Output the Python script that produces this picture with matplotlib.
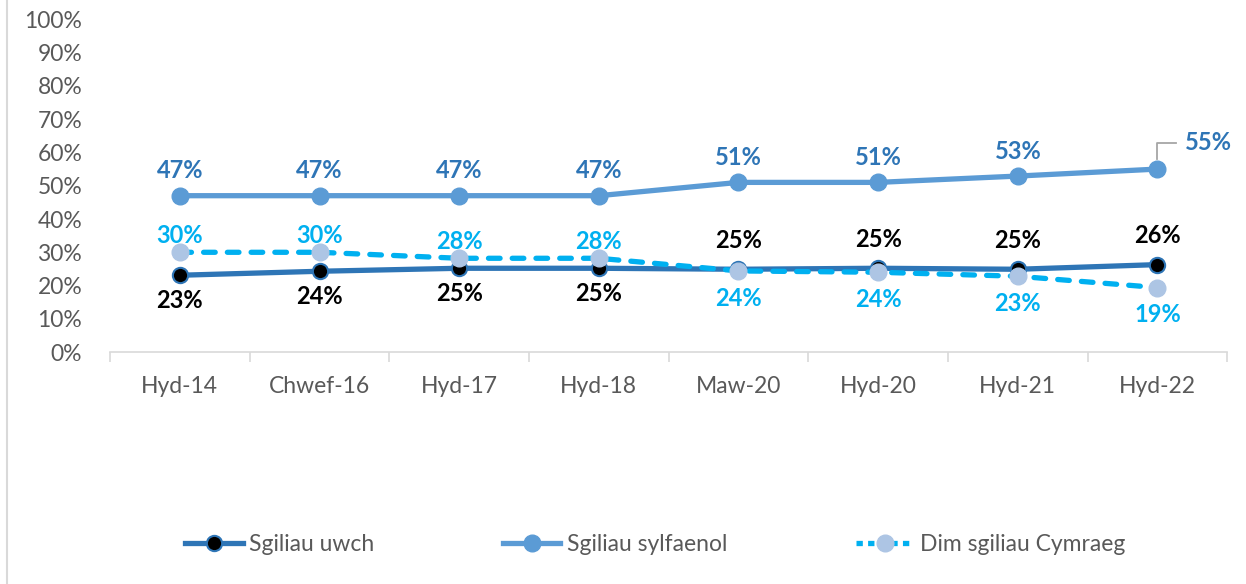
import matplotlib.pyplot as plt
from matplotlib.lines import Line2D
from matplotlib.transforms import ScaledTranslation

plt.rcParams['font.family'] = ['Lato', 'DejaVu Sans']

# data
categories = ['Hyd-14', 'Chwef-16', 'Hyd-17', 'Hyd-18', 'Maw-20', 'Hyd-20', 'Hyd-21', 'Hyd-22']
uwch = [23.1, 24.3, 25.2, 25.2, 24.9, 25.2, 24.9, 26.3]
sylfaenol = [47.0, 47.0, 47.0, 47.0, 51.0, 51.0, 52.9, 55.0]
dim = [30.0, 30.0, 28.2, 28.2, 24.4, 24.0, 22.8, 19.4]
series_names = ['Sgiliau uwch', 'Sgiliau sylfaenol', 'Dim sgiliau Cymraeg']
yticks = list(range(0, 101, 10))

grey = '#595959'
fig = plt.figure(figsize=(12.46, 5.84), dpi=100)
ax = fig.add_axes([0.0883, 0.397, 0.8967, 0.570])
x = list(range(len(categories)))

# llinellau - dim ar y top
ax.plot(x, uwch, color='#2E75B6', lw=3.8, marker='o', ms=11, mfc='black',
        mec='#2E75B6', mew=1.5, zorder=3, solid_capstyle='round')
ax.plot(x, sylfaenol, color='#5B9BD5', lw=3.8, marker='o', ms=12, mfc='#5B9BD5',
        mec='#5B9BD5', zorder=3, solid_capstyle='round')
ax.plot(x, dim, color='#00B0F0', lw=3.8, ls=(0, (2.2, 2.3)), marker='o', ms=12,
        mfc='#ADC5E4', mec='#ADC5E4', zorder=4, dash_capstyle='round')

# labeli data
lbl = dict(ha='center', va='center', fontsize=17, fontweight='bold',
           textcoords='offset points')
last = len(categories) - 1
for i in range(len(categories)):
    if i < last:
        ax.annotate('%d%%' % round(sylfaenol[i]), (i, sylfaenol[i]), xytext=(0, 18),
                    color='#2E75B6', **lbl)
    up = i >= 4
    ax.annotate('%d%%' % round(uwch[i]), (i, uwch[i]), xytext=(0, 21 if up else -18),
                color='black', **lbl)
    ax.annotate('%d%%' % round(dim[i]), (i, dim[i]), xytext=(0, -19.5 if up else 12),
                color='#00B0F0', **lbl)

# label olaf gyda llinell arweiniol
ax.annotate('%d%%' % round(sylfaenol[last]), (last, sylfaenol[last]), xytext=(37, 19),
            color='#2E75B6', **lbl)
pt = 1 / 72
leader = Line2D([0, 0, 13 * pt], [7 * pt, 19 * pt, 19 * pt], color='#A6A6A6', lw=1.3, zorder=5)
leader.set_transform(fig.dpi_scale_trans + ScaledTranslation(last, sylfaenol[last], ax.transData))
ax.add_line(leader)

ax.set_xlim(-0.5, len(categories) - 0.5)
ax.set_ylim(0, 100)
ax.set_yticks(yticks)
ax.set_yticklabels(['%d%%' % v for v in yticks])
ax.set_xticks(x)
ax.set_xticklabels(categories)
ax.set_xticks([v - 0.5 for v in range(len(categories) + 1)], minor=True)
ax.tick_params(axis='y', length=0, labelsize=16.5, labelcolor=grey, pad=20)
ax.tick_params(axis='x', which='major', length=0, labelsize=16.5, labelcolor=grey, pad=17.5)
ax.tick_params(axis='x', which='minor', length=7, color='#D9D9D9', width=1.2)
for s in ['top', 'right', 'left']:
    ax.spines[s].set_visible(False)
ax.spines['bottom'].set_color('#D9D9D9')
ax.spines['bottom'].set_linewidth(1.2)

# allwedd
handles = [
    Line2D([], [], color='#2E75B6', lw=3.8, marker='o', ms=11, mfc='black', mec='#2E75B6', mew=1.5),
    Line2D([], [], color='#5B9BD5', lw=3.8, marker='o', ms=12, mfc='#5B9BD5', mec='#5B9BD5'),
    Line2D([], [], color='#00B0F0', lw=3.8, ls=(0, (1.2, 1.0)), marker='o', ms=12,
           mfc='#ADC5E4', mec='#ADC5E4'),
]
leg = fig.legend(handles, series_names, loc='center', bbox_to_anchor=(0.526, 0.067), ncol=3,
                 frameon=False, fontsize=16.5, handlelength=2.5, columnspacing=5.6,
                 handletextpad=0.3)
for t in leg.get_texts():
    t.set_color(grey)

# ffin y siart ar y chwith
fig.add_artist(Line2D([0.0056, 0.0056], [0, 1], color='#D9D9D9', lw=1.5, transform=fig.transFigure))

fig.savefig('out.png', dpi=100)
